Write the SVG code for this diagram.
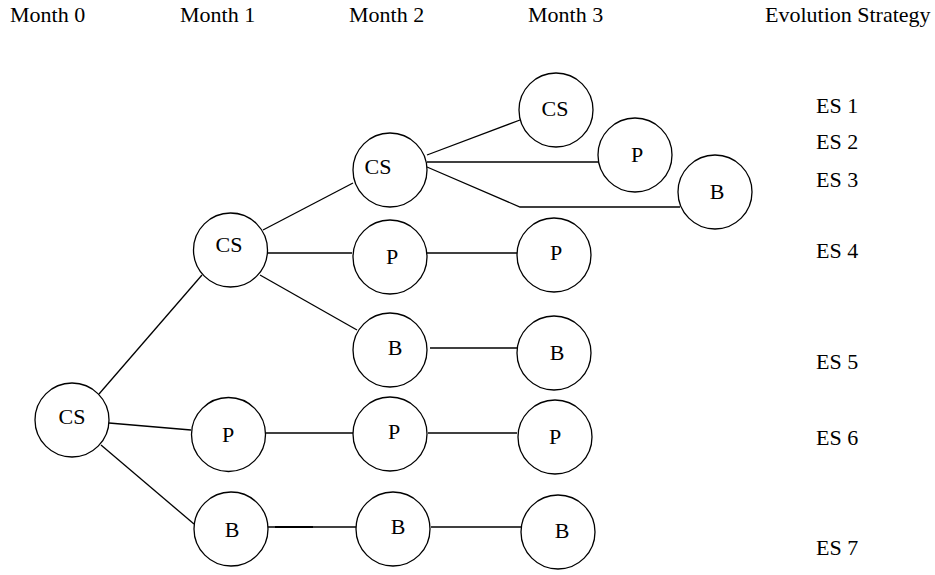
<svg xmlns="http://www.w3.org/2000/svg" width="935" height="575" viewBox="0 0 935 575">
<style>
text{font-family:"Liberation Serif","Times New Roman",serif;font-size:22px;fill:#000}
.n circle{fill:#fff;stroke:#000;stroke-width:1.3}
.n text{text-anchor:middle}
#connectors line,#connectors polyline{stroke:#000;stroke-width:1.3;fill:none}
</style>
<rect width="935" height="575" fill="#fff"/>
<g id="headers">
<text x="10" y="22">Month 0</text>
<text x="180" y="22">Month 1</text>
<text x="349" y="22">Month 2</text>
<text x="528" y="22">Month 3</text>
<text x="765" y="22">Evolution Strategy</text>
</g>
<g id="connectors">
<line x1="99" y1="394" x2="202" y2="275"/>
<line x1="109" y1="423" x2="191" y2="430"/>
<line x1="101" y1="445" x2="194" y2="524"/>
<line x1="263" y1="230" x2="353" y2="183"/>
<line x1="268" y1="253" x2="352" y2="253"/>
<line x1="260" y1="275" x2="357" y2="330"/>
<line x1="427" y1="155" x2="520" y2="120"/>
<line x1="427" y1="162" x2="598" y2="162"/>
<polyline points="427,167 520,207 680,207"/>
<line x1="427" y1="253" x2="517" y2="253"/>
<line x1="430" y1="348" x2="517" y2="348"/>
<line x1="266" y1="433" x2="353" y2="433"/>
<line x1="428" y1="433" x2="517" y2="433"/>
<line x1="268" y1="527" x2="356" y2="527"/>
<line x1="275" y1="527" x2="313" y2="527" style="stroke-width:2"/>
<line x1="431" y1="527" x2="521" y2="527"/>
</g>
<g id="cs0" class="n"><circle cx="72" cy="420" r="37"/><text x="72" y="424">CS</text></g>
<g id="cs1" class="n"><circle cx="230.5" cy="250" r="37"/><text x="229" y="252">CS</text></g>
<g id="cs2" class="n"><circle cx="390" cy="170" r="37"/><text x="378" y="174">CS</text></g>
<g id="cs3" class="n"><circle cx="556" cy="110" r="37"/><text x="555" y="116">CS</text></g>
<g id="p3a" class="n"><circle cx="635" cy="155" r="37"/><text x="637" y="162">P</text></g>
<g id="b3a" class="n"><circle cx="715" cy="192" r="37"/><text x="717" y="199">B</text></g>
<g id="p2a" class="n"><circle cx="390" cy="257" r="37"/><text x="392" y="264">P</text></g>
<g id="p3b" class="n"><circle cx="554" cy="255" r="37"/><text x="556" y="260">P</text></g>
<g id="b2a" class="n"><circle cx="390" cy="350" r="37"/><text x="395" y="355">B</text></g>
<g id="b3b" class="n"><circle cx="554" cy="353" r="37"/><text x="557" y="360">B</text></g>
<g id="p1" class="n"><circle cx="228.5" cy="434.5" r="37"/><text x="228" y="442">P</text></g>
<g id="p2b" class="n"><circle cx="390" cy="434" r="37"/><text x="394" y="439">P</text></g>
<g id="p3c" class="n"><circle cx="555" cy="437" r="37"/><text x="555" y="444">P</text></g>
<g id="b1" class="n"><circle cx="231" cy="529" r="37"/><text x="232" y="537">B</text></g>
<g id="b2b" class="n"><circle cx="393" cy="529" r="37"/><text x="398" y="534">B</text></g>
<g id="b3c" class="n"><circle cx="558" cy="532" r="37"/><text x="562" y="538">B</text></g>
<g id="es-labels">
<text x="816" y="113">ES 1</text>
<text x="816" y="149">ES 2</text>
<text x="816" y="187">ES 3</text>
<text x="816" y="258">ES 4</text>
<text x="816" y="369">ES 5</text>
<text x="816" y="445">ES 6</text>
<text x="816" y="555">ES 7</text>
</g>
</svg>
